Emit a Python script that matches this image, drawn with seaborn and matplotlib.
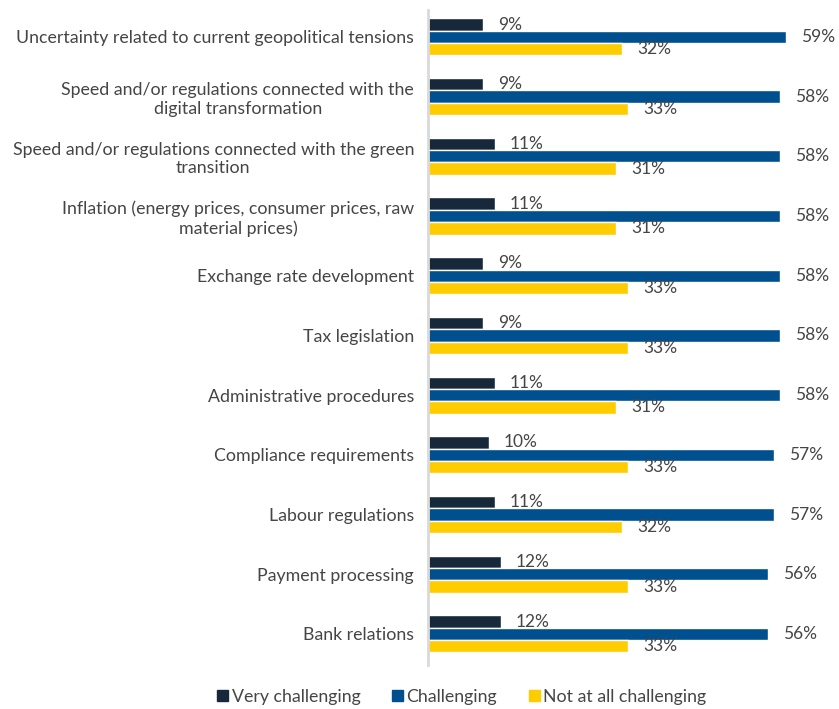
import matplotlib
matplotlib.use("Agg")
import matplotlib.pyplot as plt
import seaborn as sns
import pandas as pd

categories = [
    "Uncertainty related to current geopolitical tensions",
    "Speed and/or regulations connected with the\ndigital transformation",
    "Speed and/or regulations connected with the green\ntransition",
    "Inflation (energy prices, consumer prices, raw\nmaterial prices)",
    "Exchange rate development",
    "Tax legislation",
    "Administrative procedures",
    "Compliance requirements",
    "Labour regulations",
    "Payment processing",
    "Bank relations",
]
very_challenging = [9, 9, 11, 11, 9, 9, 11, 10, 11, 12, 12]
challenging = [59, 58, 58, 58, 58, 58, 58, 57, 57, 56, 56]
not_at_all = [32, 33, 31, 31, 33, 33, 31, 33, 32, 33, 33]
series_names = ["Very challenging", "Challenging", "Not at all challenging"]
colors = ["#17283b", "#00508f", "#ffcc00"]

df = pd.DataFrame({
    "category": categories * 3,
    "series": [series_names[0]] * 11 + [series_names[1]] * 11 + [series_names[2]] * 11,
    "value": very_challenging + challenging + not_at_all,
})

sns.set_theme(style="white")
plt.rcParams["font.family"] = ["Lato", "DejaVu Sans"]
text_color = "#454545"

fig = plt.figure(figsize=(8.39, 7.09), dpi=100)
ax = fig.add_axes([428 / 839, 1 - 665 / 709, 1 - 428 / 839, 655 / 709])

sns.barplot(data=df, y="category", x="value", hue="series", order=categories,
            hue_order=series_names, palette=colors, orient="h",
            width=0.62, gap=0, ax=ax, legend=False, saturation=1)

ax.set_xlim(0, (839 - 428) / 6.07)
ax.set_ylim(10.52, -0.45)
ax.set_xlabel("")
ax.set_ylabel("")
ax.set_xticks([])
for s in ["top", "right", "bottom"]:
    ax.spines[s].set_visible(False)
ax.spines["left"].set_color("#d9d9d9")
ax.spines["left"].set_linewidth(2)

ax.tick_params(axis="y", length=0, pad=10, labelsize=12.8, labelcolor=text_color)
for lbl in ax.get_yticklabels():
    lbl.set_multialignment("center")

for cont in ax.containers:
    ax.bar_label(cont, labels=[f"{v:.0f}%" for v in cont.datavalues],
                 padding=11, fontsize=12.5, color=text_color)

handles = [plt.Rectangle((0, 0), 1, 1, color=c) for c in colors]
fig.legend(handles, series_names, loc="center", bbox_to_anchor=(462 / 839, 1 - 697 / 709),
           ncol=3, frameon=False, handlelength=0.6, handleheight=0.6,
           handletextpad=0.2, columnspacing=1.8, fontsize=12.8, labelcolor=text_color)

fig.savefig("out.png", dpi=100)
